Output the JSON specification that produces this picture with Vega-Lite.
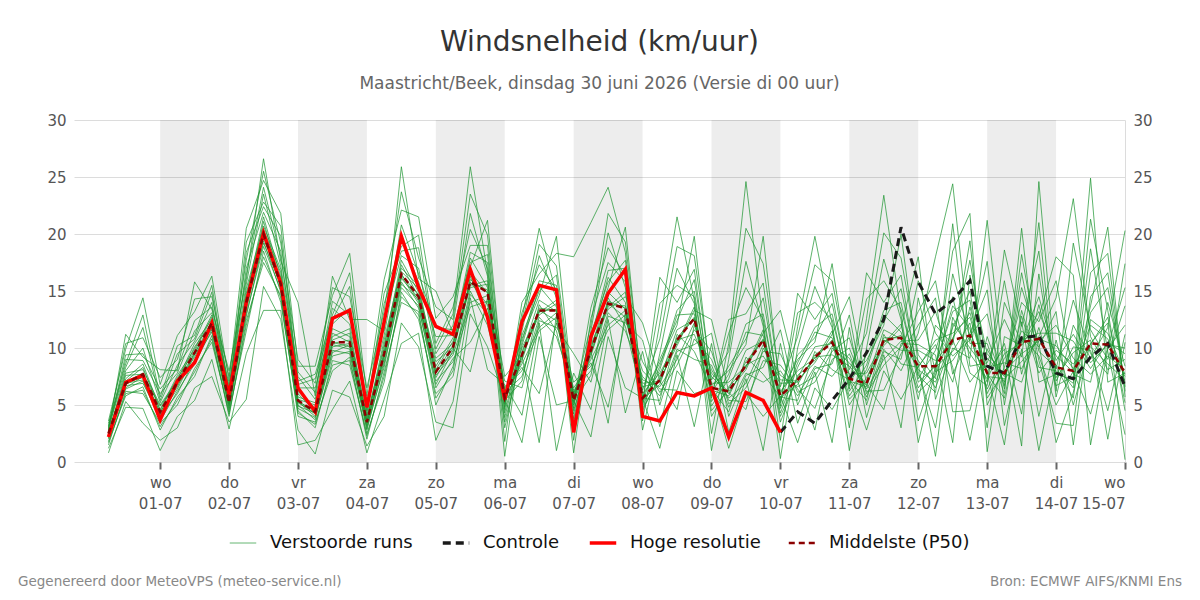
{
"$schema": "https://vega.github.io/schema/vega-lite/v6.json",
"autosize": {"type": "none"},
"width": 1051,
"height": 342,
"padding": {"left": 74, "top": 120, "right": 75, "bottom": 138},
"title": {"text": "Windsnelheid (km/uur)", "subtitle": "Maastricht/Beek, dinsdag 30 juni 2026 (Versie di 00 uur)", "anchor": "middle", "frame": "group", "font": "DejaVu Sans", "fontSize": 28, "fontWeight": "normal", "color": "#333333", "subtitleFont": "DejaVu Sans", "subtitleFontSize": 17, "subtitleColor": "#666666", "subtitlePadding": 19, "offset": 21},
"datasets": {
"b": [
{"a":"2026-07-01T00:00","z":"2026-07-02T00:00"},
{"a":"2026-07-03T00:00","z":"2026-07-04T00:00"},
{"a":"2026-07-05T00:00","z":"2026-07-06T00:00"},
{"a":"2026-07-07T00:00","z":"2026-07-08T00:00"},
{"a":"2026-07-09T00:00","z":"2026-07-10T00:00"},
{"a":"2026-07-11T00:00","z":"2026-07-12T00:00"},
{"a":"2026-07-13T00:00","z":"2026-07-14T00:00"}
],
"m": [
{"t":"2026-06-30T06:00","h":2.2,"p":2.5,"e":[2.4,2.0,2.9,2.3,3.2,1.5,2.6,2.2,2.7,0.8,2.4,3.0,1.8,3.6,2.2,2.5,1.2,2.8,2.4,3.4,2.1,2.6,1.7,3.1]},
{"t":"2026-06-30T12:00","h":7.0,"p":6.9,"e":[7.0,6.7,9.4,6.5,8.3,6.2,7.1,6.9,9.0,5.3,7.6,8.0,5.8,9.9,7.0,7.8,4.8,11.2,6.8,8.6,6.4,7.3,6.0,10.4]},
{"t":"2026-06-30T18:00","h":7.6,"p":7.7,"e":[7.8,6.9,9.5,7.5,11.8,6.0,8.3,7.2,8.9,3.4,7.7,10.0,6.6,14.4,7.4,8.1,4.7,9.2,7.6,12.9,7.1,8.6,6.3,10.9]},
{"t":"2026-07-01T00:00","h":3.7,"p":4.4,"e":[4.3,4.0,6.4,3.8,5.4,3.4,4.5,4.2,6.0,1.9,4.9,5.2,2.8,6.8,4.4,5.0,1.0,8.1,4.1,5.7,3.6,4.6,3.1,7.4]},
{"t":"2026-07-01T06:00","h":7.1,"p":7.0,"e":[7.1,6.0,8.2,6.8,9.5,5.0,7.4,6.4,7.8,3.0,7.0,8.5,5.7,11.1,6.6,7.2,4.0,8.0,6.9,10.2,6.2,7.6,5.4,9.0]},
{"t":"2026-07-01T12:00","h":8.7,"p":9.6,"e":[9.5,9.0,12.4,8.8,10.8,8.2,9.7,9.4,11.5,6.5,10.1,10.6,7.5,13.2,9.6,10.4,5.4,15.8,9.2,11.1,8.6,9.9,7.9,14.3]},
{"t":"2026-07-01T18:00","h":12.2,"p":12.2,"e":[12.3,11.4,13.6,12.0,14.9,10.5,12.7,11.7,13.1,7.5,12.2,14.0,11.1,16.3,11.9,12.5,9.0,13.4,12.1,15.5,11.6,12.9,10.8,14.5]},
{"t":"2026-07-02T00:00","h":5.9,"p":5.2,"e":[5.1,4.9,6.8,4.7,6.0,4.4,5.3,5.1,6.5,3.5,5.6,5.9,4.0,7.1,5.2,5.7,2.9,8.0,5.0,6.2,4.6,5.4,4.2,7.5]},
{"t":"2026-07-02T06:00","h":14.0,"p":14.0,"e":[14.2,12.8,16.4,13.8,18.4,11.5,14.8,13.3,15.6,5.5,14.0,17.0,12.4,20.5,13.6,14.5,9.5,16.0,13.9,19.3,13.0,15.2,12.0,17.7]},
{"t":"2026-07-02T12:00","h":20.1,"p":20.0,"e":[20.1,19.4,24.1,19.2,22.4,18.5,20.4,19.9,23.5,15.4,21.1,21.9,17.5,24.7,20.2,21.5,13.3,26.6,19.7,22.8,18.9,20.7,18.0,25.5]},
{"t":"2026-07-02T18:00","h":15.7,"p":15.6,"e":[16.0,14.9,18.0,15.6,19.8,14.0,16.6,15.3,17.2,12.5,15.8,18.5,14.6,21.8,15.5,16.2,13.3,17.6,15.7,20.7,15.1,16.9,14.4,19.2]},
{"t":"2026-07-03T00:00","h":6.5,"p":5.4,"e":[5.3,5.0,7.9,4.9,6.8,4.5,5.5,5.3,7.5,2.8,6.0,6.5,4.0,8.4,5.4,6.2,1.5,14.0,5.2,7.1,4.7,5.7,4.3,9.0]},
{"t":"2026-07-03T06:00","h":4.4,"p":4.4,"e":[4.5,3.7,6.1,4.3,7.3,3.0,5.0,4.0,5.5,0.7,4.4,6.5,3.5,8.4,4.2,4.7,1.9,5.8,4.3,7.7,3.9,5.2,3.3,6.9]},
{"t":"2026-07-03T12:00","h":12.6,"p":10.5,"e":[10.4,9.8,14.1,9.6,12.5,8.9,10.7,10.3,13.5,6.3,11.3,12.1,8.0,14.6,10.5,11.7,4.6,16.3,10.1,12.9,9.3,11.0,8.5,15.3]},
{"t":"2026-07-03T18:00","h":13.3,"p":10.5,"e":[10.7,9.5,12.9,10.3,15.4,8.5,11.3,9.9,12.1,5.7,10.5,13.5,9.2,18.3,10.1,11.0,7.1,12.5,10.4,16.6,9.7,11.7,8.9,14.5]},
{"t":"2026-07-04T00:00","h":4.8,"p":3.5,"e":[3.4,3.1,5.4,2.9,4.5,2.5,3.6,3.4,5.0,1.4,3.9,4.3,2.0,5.8,3.5,4.1,0.8,12.5,3.2,4.7,2.8,3.7,2.3,6.5]},
{"t":"2026-07-04T06:00","h":12.3,"p":9.5,"e":[9.7,8.3,11.9,9.3,13.9,7.0,10.3,8.8,11.1,4.0,9.5,12.5,7.9,16.0,9.1,10.0,5.5,11.5,9.4,14.8,8.6,10.7,7.5,13.2]},
{"t":"2026-07-04T12:00","h":19.8,"p":16.5,"e":[16.4,15.8,20.8,15.6,18.5,14.9,16.7,16.3,19.5,12.2,17.3,18.1,14.0,22.1,16.5,17.7,10.4,25.9,16.1,18.9,15.3,17.0,14.5,23.7]},
{"t":"2026-07-04T18:00","h":15.3,"p":14.5,"e":[14.7,13.5,16.5,14.3,18.8,12.5,15.2,13.9,15.8,10.1,14.5,17.0,13.2,21.5,14.1,14.9,11.3,16.1,14.4,19.9,13.7,15.5,12.9,17.9]},
{"t":"2026-07-05T00:00","h":11.9,"p":7.9,"e":[7.8,7.1,11.8,6.8,9.9,6.0,8.1,7.6,11.0,3.5,8.8,9.5,5.0,12.6,7.9,9.1,1.9,15.0,7.4,10.4,6.5,8.4,5.6,13.6]},
{"t":"2026-07-05T06:00","h":11.2,"p":10.1,"e":[10.2,8.8,11.6,9.8,13.0,7.5,10.6,9.4,11.1,3.0,10.1,12.0,8.4,14.5,9.6,10.4,5.3,11.3,10.0,13.6,9.1,10.9,8.0,12.5]},
{"t":"2026-07-05T12:00","h":16.9,"p":15.8,"e":[16.7,13.6,17.5,15.8,25.9,14.7,15.7,14.0,18.4,13.0,15.3,21.8,15.0,19.0,16.0,15.5,14.4,17.1,7.9,20.4,10.5,17.9,16.3,23.5]},
{"t":"2026-07-05T18:00","h":12.7,"p":14.9,"e":[14.8,14.1,18.2,13.8,16.6,13.0,15.1,14.6,17.5,10.1,15.6,16.3,12.0,19.0,14.9,15.9,8.1,21.2,14.4,17.0,13.5,15.3,12.6,19.9]},
{"t":"2026-07-06T00:00","h":5.5,"p":5.6,"e":[3.5,6.5,5.1,5.8,1.8,7.1,5.6,6.0,4.3,5.5,7.5,0.5,6.1,4.6,5.3,3.0,6.8,5.6,5.9,4.8,6.3,3.9,5.4,5.7]},
{"t":"2026-07-06T06:00","h":12.3,"p":9.4,"e":[9.5,8.0,11.1,9.1,12.5,6.5,10.0,8.6,10.5,1.7,9.4,11.5,7.5,14.0,8.9,9.7,4.1,10.8,9.3,13.1,8.3,10.2,7.1,12.0]},
{"t":"2026-07-06T12:00","h":15.5,"p":13.3,"e":[14.2,11.5,15.0,13.3,20.5,12.4,13.2,11.8,15.9,11.0,12.9,18.1,12.7,16.5,13.5,13.1,12.2,14.6,1.7,17.3,6.0,15.4,13.8,19.1]},
{"t":"2026-07-06T18:00","h":15.1,"p":13.3,"e":[13.2,12.7,16.4,12.4,14.7,11.8,13.4,13.1,15.5,5.0,13.9,14.4,11.0,18.3,13.3,14.2,1.0,19.8,12.9,15.1,12.2,13.6,11.5,17.2]},
{"t":"2026-07-07T00:00","h":2.6,"p":5.4,"e":[3.5,7.0,5.0,5.8,1.9,9.5,5.6,6.1,4.2,5.4,4.5,0.8,6.3,18.0,5.2,3.0,7.8,5.5,6.0,4.7,6.5,3.8,5.3,5.7]},
{"t":"2026-07-07T06:00","h":11.0,"p":9.8,"e":[9.9,8.4,11.2,9.5,12.6,7.0,10.3,9.0,10.7,2.2,9.8,11.5,8.0,21.0,9.3,10.1,4.6,10.9,9.7,13.5,8.7,10.5,7.6,12.0]},
{"t":"2026-07-07T12:00","h":14.8,"p":13.9,"e":[14.9,11.6,15.8,13.9,17.5,12.8,13.8,12.0,16.8,11.0,13.4,20.1,13.1,24.1,14.1,13.6,12.5,15.3,3.4,18.8,4.8,16.2,14.4,21.8]},
{"t":"2026-07-07T18:00","h":16.9,"p":13.5,"e":[13.4,12.9,17.7,12.7,15.8,12.2,13.7,13.3,17.0,6.5,14.5,15.3,11.5,18.4,13.5,14.9,4.3,20.6,13.1,16.3,12.5,14.0,11.9,19.3]},
{"t":"2026-07-08T00:00","h":4.0,"p":5.6,"e":[4.7,8.8,5.4,6.6,3.6,10.7,6.0,7.2,5.1,5.6,12.2,2.8,7.5,5.2,5.5,4.5,9.7,5.7,6.9,5.3,8.0,4.9,5.6,6.3]},
{"t":"2026-07-08T06:00","h":3.6,"p":7.2,"e":[7.3,6.1,9.0,7.0,12.2,5.0,7.8,6.6,8.4,1.2,7.2,9.5,5.8,16.2,6.8,7.6,3.1,8.7,7.1,13.9,6.4,8.1,5.4,10.8]},
{"t":"2026-07-08T12:00","h":6.1,"p":10.7,"e":[11.6,8.5,12.4,10.7,21.5,9.7,10.6,9.0,13.3,8.0,10.2,17.0,9.9,14.0,10.9,10.4,9.4,12.0,4.6,15.5,6.3,12.9,11.2,18.9]},
{"t":"2026-07-08T18:00","h":5.8,"p":12.6,"e":[12.5,11.6,16.0,11.2,14.2,10.3,12.7,12.2,15.0,6.0,13.3,13.9,9.0,16.9,12.6,13.6,3.1,19.8,12.0,14.5,10.8,13.0,9.7,18.1]},
{"t":"2026-07-09T00:00","h":6.5,"p":6.5,"e":[4.5,9.7,6.1,7.5,2.5,11.3,6.9,8.1,5.3,6.5,12.5,1.0,8.5,5.6,6.3,4.0,10.4,6.7,7.8,5.8,9.0,4.9,6.4,7.2]},
{"t":"2026-07-09T06:00","h":2.2,"p":6.2,"e":[6.4,5.1,8.4,6.0,10.4,4.0,7.0,5.6,7.7,1.2,6.2,9.0,4.8,12.5,5.8,6.6,2.6,8.0,6.1,11.3,5.4,7.3,4.4,9.7]},
{"t":"2026-07-09T12:00","h":6.1,"p":8.5,"e":[9.8,6.5,10.8,8.5,24.6,7.6,8.4,6.9,12.1,6.0,8.1,17.6,7.8,13.0,8.8,8.3,7.3,10.3,4.6,15.3,5.3,11.4,9.2,20.5]},
{"t":"2026-07-09T18:00","h":5.4,"p":10.7,"e":[10.6,9.7,14.4,9.3,12.2,8.3,10.8,10.3,13.0,4.0,11.3,11.9,7.0,15.7,10.7,11.6,1.0,19.8,10.0,12.5,8.9,11.1,7.7,17.4]},
{"t":"2026-07-10T00:00","h":2.6,"p":5.8,"c":2.6,"e":[4.0,9.5,5.4,6.9,1.9,11.6,6.2,7.6,4.7,5.8,13.3,0.3,8.0,4.9,5.6,3.5,10.4,6.0,7.2,5.2,8.5,4.3,5.7,6.6]},
{"t":"2026-07-10T06:00","p":7.2,"c":4.4,"e":[7.4,6.1,9.4,7.0,11.9,5.0,8.0,6.6,8.7,1.7,7.2,10.0,5.8,14.8,6.8,7.6,3.4,9.0,7.1,13.1,6.4,8.3,5.4,11.0]},
{"t":"2026-07-10T12:00","p":9.2,"c":3.4,"e":[10.1,7.0,10.9,9.2,19.8,8.2,9.1,7.5,11.8,6.5,8.7,15.4,8.4,12.5,9.4,8.9,7.9,10.5,2.8,14.0,4.7,11.4,9.7,17.3]},
{"t":"2026-07-10T18:00","p":10.5,"c":5.4,"e":[10.4,9.7,13.9,9.4,12.1,8.6,10.7,10.2,13.0,4.6,11.2,11.8,7.5,14.8,10.5,11.5,1.7,17.4,10.0,12.5,9.0,10.9,8.1,15.9]},
{"t":"2026-07-11T00:00","p":7.3,"c":7.3,"e":[5.5,10.9,6.9,8.4,3.0,12.9,7.7,9.1,6.2,7.3,14.5,1.0,9.5,6.4,7.1,5.0,11.8,7.5,8.7,6.7,10.0,5.8,7.2,8.1]},
{"t":"2026-07-11T06:00","p":6.9,"c":9.6,"e":[7.1,6.0,9.4,6.7,12.6,5.0,7.8,6.4,8.5,2.8,6.9,10.0,5.7,16.6,6.6,7.4,3.9,8.9,6.8,14.3,6.2,8.1,5.4,11.3]},
{"t":"2026-07-11T12:00","p":10.7,"c":12.5,"e":[11.6,8.5,12.4,10.7,23.4,9.7,10.6,9.0,13.3,8.0,10.2,17.8,9.9,14.0,10.9,10.4,9.4,12.0,4.6,15.9,6.3,12.9,11.2,20.1]},
{"t":"2026-07-11T18:00","p":10.9,"c":20.6,"e":[10.8,10.1,15.2,9.8,12.9,9.0,11.1,10.6,14.0,5.5,11.8,12.5,8.0,16.4,10.9,12.1,3.0,20.0,10.4,13.4,9.5,11.4,8.6,17.9]},
{"t":"2026-07-12T00:00","p":8.4,"c":15.8,"e":[6.1,13.2,7.9,9.8,3.6,15.9,8.9,10.7,7.0,8.4,18.0,1.7,11.3,7.3,8.1,5.5,14.4,8.6,10.3,7.6,12.0,6.5,8.3,9.4]},
{"t":"2026-07-12T06:00","p":8.4,"c":13.0,"e":[7.6,15.9,3.0,8.9,8.3,11.3,6.5,13.2,8.4,10.3,5.5,8.1,18.0,9.8,7.0,12.0,7.9,0.5,9.4,6.1,14.4,8.6,10.7,7.3]},
{"t":"2026-07-12T12:00","p":10.7,"c":14.2,"e":[11.8,7.7,12.7,10.7,9.7,9.3,10.6,8.3,13.7,7.0,10.0,18.5,24.4,14.5,10.9,10.3,8.9,12.2,1.7,16.5,4.4,13.2,11.3,20.9]},
{"t":"2026-07-12T18:00","p":11.1,"c":15.9,"e":[15.0,11.1,9.5,7.0,12.2,10.7,17.7,1.9,11.7,13.6,9.1,21.8,10.4,7.8,13.1,19.4,11.3,10.0,16.4,10.9,4.5,14.2,12.7,8.4]},
{"t":"2026-07-13T00:00","p":7.8,"c":8.4,"e":[5.6,13.0,7.3,9.1,3.0,17.6,8.3,9.9,6.4,7.8,21.2,0.9,10.4,6.7,7.5,5.0,15.1,8.0,9.5,7.0,11.0,6.0,7.7,8.7]},
{"t":"2026-07-13T06:00","p":7.8,"c":7.8,"e":[8.0,6.4,10.4,7.5,14.0,5.0,8.7,7.0,9.5,1.5,7.8,11.0,6.0,18.6,7.3,8.3,3.2,9.9,7.7,15.9,6.7,9.1,5.6,12.5]},
{"t":"2026-07-13T12:00","p":10.5,"c":10.9,"e":[9.5,18.2,4.2,11.0,10.4,13.3,8.2,15.3,10.5,12.3,7.0,10.2,20.5,11.9,8.8,14.0,9.9,1.4,11.5,7.7,16.6,10.7,12.8,9.2]},
{"t":"2026-07-13T18:00","p":10.8,"c":11.1,"e":[10.6,9.7,16.5,9.3,13.2,8.3,11.0,10.4,14.5,4.0,11.8,12.7,7.0,18.5,10.8,12.3,1.0,24.6,10.1,13.8,8.9,11.3,7.8,21.0]},
{"t":"2026-07-14T00:00","p":8.3,"c":7.8,"e":[12.0,8.3,7.1,5.0,9.3,8.0,14.4,1.7,8.9,10.7,6.7,18.0,7.7,5.7,10.2,15.9,8.5,7.4,13.2,8.2,3.4,11.3,9.8,6.2]},
{"t":"2026-07-14T06:00","p":8.0,"c":7.3,"e":[9.1,5.6,10.1,8.0,7.9,6.9,23.1,6.1,11.2,5.0,7.5,16.4,7.2,12.0,8.2,7.7,6.5,9.6,1.5,14.2,3.2,10.6,8.6,19.2]},
{"t":"2026-07-14T12:00","p":10.4,"c":9.2,"e":[7.7,16.6,9.8,12.0,4.2,21.3,11.0,13.1,8.7,10.4,24.9,1.5,13.7,9.1,10.1,7.0,18.7,10.7,12.5,9.5,14.5,8.2,10.3,11.6]},
{"t":"2026-07-14T18:00","p":10.3,"c":10.4,"e":[9.3,18.3,4.5,10.8,10.1,13.3,8.1,15.3,10.3,12.2,7.0,9.9,20.6,11.8,8.6,14.0,9.7,2.0,11.3,7.7,16.6,10.5,12.7,9.0]},
{"t":"2026-07-15T00:00","p":7.8,"c":6.6,"e":[8.1,6.2,11.2,7.5,15.3,4.5,9.0,6.9,10.0,0.2,7.8,12.0,5.7,20.3,7.2,8.4,2.4,10.5,7.7,17.4,6.6,9.5,5.2,13.7]}
]
},
"layer": [
{"layer": [
{"data": {"name": "b"}, "mark": {"type": "rect", "color": "#000000", "opacity": 0.07}, "encoding": {
"x": {"field": "a", "type": "temporal", "title": null, "scale": {"domain": [{"year": 2026, "month": 6, "date": 29, "hours": 18}, {"year": 2026, "month": 7, "date": 15}]}, "axis": {"title": null, "values": [{"year":2026,"month":7,"date":1},{"year":2026,"month":7,"date":2},{"year":2026,"month":7,"date":3},{"year":2026,"month":7,"date":4},{"year":2026,"month":7,"date":5},{"year":2026,"month":7,"date":6},{"year":2026,"month":7,"date":7},{"year":2026,"month":7,"date":8},{"year":2026,"month":7,"date":9},{"year":2026,"month":7,"date":10},{"year":2026,"month":7,"date":11},{"year":2026,"month":7,"date":12},{"year":2026,"month":7,"date":13},{"year":2026,"month":7,"date":14},{"year":2026,"month":7,"date":15}], "labelExpr": "[['zo','ma','di','wo','do','vr','za'][day(datum.value)], timeFormat(datum.value, '%d-%m')]"}},
"x2": {"field": "z"}}},
{"data": {"name": "m"}, "transform": [{"flatten": ["e"], "as": ["v"]}, {"window": [{"op": "row_number", "as": "n"}], "groupby": ["t"]}], "mark": {"type": "line", "strokeWidth": 1}, "encoding": {
"x": {"field": "t", "type": "temporal", "title": null},
"y": {"field": "v", "type": "quantitative", "title": null, "scale": {"domain": [0, 30]}, "axis": {"title": null, "values": [0, 5, 10, 15, 20, 25, 30]}},
"detail": {"field": "n", "type": "nominal"},
"color": {"datum": "Verstoorde runs", "type": "nominal", "scale": {"domain": ["Verstoorde runs", "Controle", "Hoge resolutie", "Middelste (P50)"], "range": ["rgba(30,150,50,0.72)", "#1a1a1a", "#ff0000", "#8b0000"]}, "legend": {"title": null, "orient": "none", "legendX": 160, "legendY": 414, "direction": "horizontal", "encode": {"symbols": {"update": {"strokeDash": {"signal": "datum.value === 'Controle' ? [8,5] : (datum.value === 'Middelste (P50)' ? [6,4] : [1,0])"}, "strokeWidth": {"signal": "datum.value === 'Verstoorde runs' ? 1 : (datum.value === 'Middelste (P50)' ? 2.5 : 3.5)"}}}}}}
}},
{"data": {"name": "m"}, "mark": {"type": "line", "strokeWidth": 3, "strokeDash": [8, 5]}, "encoding": {
"x": {"field": "t", "type": "temporal", "title": null},
"y": {"field": "c", "type": "quantitative", "title": null},
"color": {"datum": "Controle", "type": "nominal", "legend": {"title": null}}
}},
{"data": {"name": "m"}, "mark": {"type": "line", "strokeWidth": 3.5}, "encoding": {
"x": {"field": "t", "type": "temporal", "title": null},
"y": {"field": "h", "type": "quantitative", "title": null},
"color": {"datum": "Hoge resolutie", "type": "nominal", "legend": {"title": null}}
}},
{"data": {"name": "m"}, "mark": {"type": "line", "strokeWidth": 2.5, "strokeDash": [6, 4]}, "encoding": {
"x": {"field": "t", "type": "temporal", "title": null},
"y": {"field": "p", "type": "quantitative", "title": null},
"color": {"datum": "Middelste (P50)", "type": "nominal", "legend": {"title": null}}
}},
{"data": {"values": [{}]}, "mark": {"type": "text", "text": "Gegenereerd door MeteoVPS (meteo-service.nl)", "align": "left", "baseline": "middle", "dx": -56, "font": "DejaVu Sans", "fontSize": 13.5, "color": "#888888"}, "encoding": {
"x": {"datum": {"year": 2026, "month": 6, "date": 29, "hours": 18}, "type": "temporal"},
"y": {"datum": -10.5, "type": "quantitative"}
}},
{"data": {"values": [{}]}, "mark": {"type": "text", "text": "Bron: ECMWF AIFS/KNMI Ens", "align": "right", "baseline": "middle", "dx": 57, "font": "DejaVu Sans", "fontSize": 13.5, "color": "#888888"}, "encoding": {
"x": {"datum": {"year": 2026, "month": 7, "date": 15}, "type": "temporal"},
"y": {"datum": -10.5, "type": "quantitative"}
}}
]},
{"data": {"values": [{"v": 0}, {"v": 30}]}, "mark": {"type": "point", "opacity": 0}, "encoding": {
"y": {"field": "v", "type": "quantitative", "scale": {"domain": [0, 30]}, "axis": {"orient": "right", "title": null, "grid": false, "domain": true, "domainColor": "#dcdcdc", "values": [0, 5, 10, 15, 20, 25, 30]}}
}}
],
"resolve": {"scale": {"y": "independent"}},
"config": {
"font": "DejaVu Sans",
"view": {"stroke": null},
"axis": {"labelFont": "DejaVu Sans", "labelColor": "#555555", "labelFontSize": 15},
"axisX": {"grid": false, "domain": false, "tickColor": "#666666", "tickWidth": 2, "tickSize": 7, "labelPadding": 6, "labelLineHeight": 21},
"axisY": {"grid": true, "gridColor": "#dcdcdc", "domain": false, "ticks": false, "labelPadding": 8},
"legend": {"labelFont": "DejaVu Sans", "labelFontSize": 18, "labelColor": "#111111", "symbolType": "stroke", "symbolSize": 700, "columnPadding": 22, "labelOffset": 18, "padding": 0}
}
}
